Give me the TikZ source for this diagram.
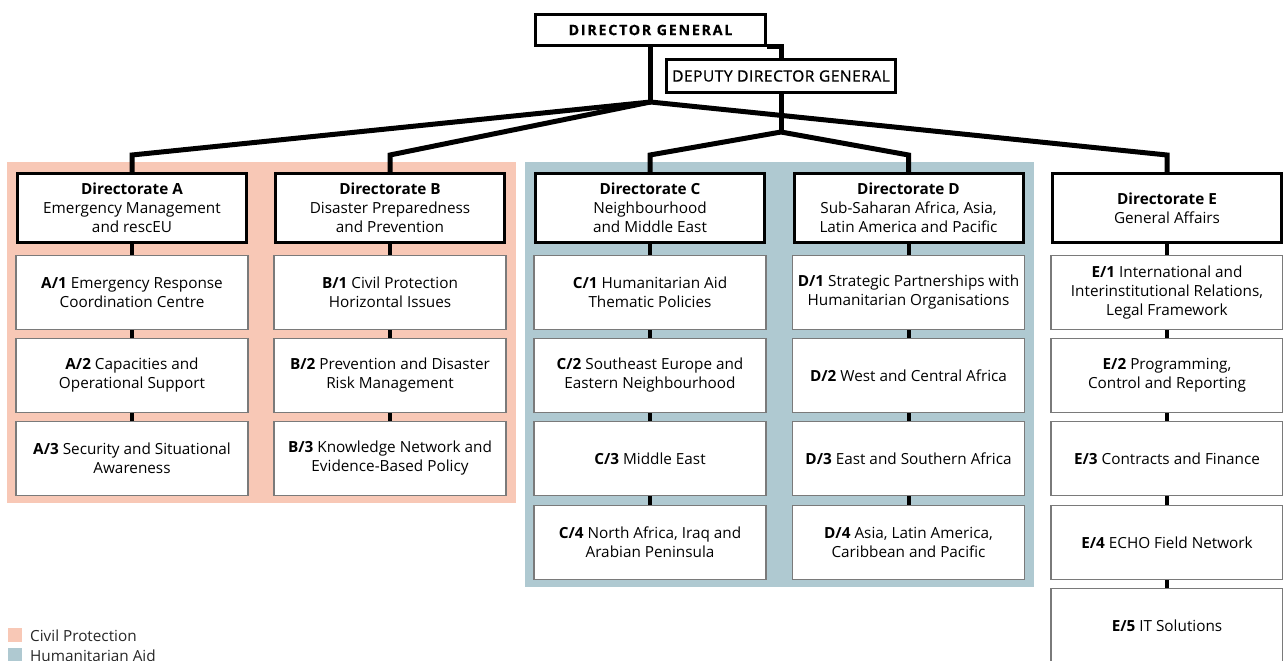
\documentclass[tikz,border=0pt]{standalone}
\usepackage{fontspec}
\setmainfont{Open Sans}
\newfontface\dgfont[LetterSpace=12,FakeBold=0.4]{Open Sans Bold}
\newfontface\ddgfont[LetterSpace=3,FakeBold=0.7]{Open Sans}
\usepackage{tikz}
\usetikzlibrary{positioning}
\definecolor{civilpink}{HTML}{F8C8B6}
\definecolor{humblue}{HTML}{AFC9D1}
\definecolor{unitgray}{HTML}{7A7A7A}

\tikzset{
  headbox/.style={draw=black, line width=3pt, fill=white, inner sep=0pt, align=center},
  dirbox/.style={draw=black, line width=3pt, fill=white, inner sep=0pt, align=center,
    minimum width=229pt, minimum height=69pt, font=\fontsize{15.3}{19}\selectfont},
  unitbox/.style={draw=unitgray, line width=1.2pt, fill=white, inner sep=0pt, align=center,
    minimum width=232pt, minimum height=74pt, font=\fontsize{15.3}{19}\selectfont},
  link/.style={line width=5pt, black},
  stub/.style={line width=4pt, black},
  legendtext/.style={anchor=west, inner sep=0pt, font=\fontsize{15.3}{17}\selectfont, text=black!85}
}

\begin{document}
\begin{tikzpicture}[x=1pt,y=-1pt]
  \useasboundingbox (0,0) rectangle (1283,661);
  % coloured groups
  \fill[civilpink] (7,162) rectangle (516,503);
  \fill[humblue] (525,162) rectangle (1034,587);

  % top level
  \node[headbox, minimum width=230pt, minimum height=31pt] (dg) at (650.5,30)
    {\fontsize{14.3}{16}\dgfont DIRECTOR GENERAL};
  \node[headbox, minimum width=229pt, minimum height=33pt] (ddg) at (781,76)
    {\fontsize{15.6}{18}\ddgfont DEPUTY DIRECTOR GENERAL};

  % directorates
  \node[dirbox] (dirA) at (132,208) {\textbf{Directorate A}\\Emergency Management\\and rescEU};
  \node[dirbox] (dirB) at (390,208) {\textbf{Directorate B}\\Disaster Preparedness\\and Prevention};
  \node[dirbox] (dirC) at (650,208) {\textbf{Directorate C}\\Neighbourhood\\and Middle East};
  \node[dirbox] (dirD) at (908.5,208) {\textbf{Directorate D}\\Sub-Saharan Africa, Asia,\\Latin America and Pacific};
  \node[dirbox] (dirE) at (1167,208) {\textbf{Directorate E}\\General Affairs};

  % units
  \node[unitbox] (unitA1) at (132,292.5) {\textbf{A/1} Emergency Response\\Coordination Centre};
  \node[unitbox] (unitA2) at (132,375.5) {\textbf{A/2} Capacities and\\Operational Support};
  \node[unitbox] (unitA3) at (132,458.5) {\textbf{A/3} Security and Situational\\Awareness};

  \node[unitbox] (unitB1) at (390,292.5) {\textbf{B/1} Civil Protection\\Horizontal Issues};
  \node[unitbox] (unitB2) at (390,375.5) {\textbf{B/2} Prevention and Disaster\\Risk Management};
  \node[unitbox] (unitB3) at (390,458.5) {\textbf{B/3} Knowledge Network and\\Evidence-Based Policy};

  \node[unitbox] (unitC1) at (650,292.5) {\textbf{C/1} Humanitarian Aid\\Thematic Policies};
  \node[unitbox] (unitC2) at (650,375.5) {\textbf{C/2} Southeast Europe and\\Eastern Neighbourhood};
  \node[unitbox] (unitC3) at (650,458.5) {\textbf{C/3} Middle East};
  \node[unitbox] (unitC4) at (650,542.5) {\textbf{C/4} North Africa, Iraq and\\Arabian Peninsula};

  \node[unitbox] (unitD1) at (908.5,292.5) {\textbf{D/1} Strategic Partnerships with\\Humanitarian Organisations};
  \node[unitbox] (unitD2) at (908.5,375.5) {\textbf{D/2} West and Central Africa};
  \node[unitbox] (unitD3) at (908.5,458.5) {\textbf{D/3} East and Southern Africa};
  \node[unitbox] (unitD4) at (908.5,542.5) {\textbf{D/4} Asia, Latin America,\\Caribbean and Pacific};

  \node[unitbox] (unitE1) at (1167,292.5) {\textbf{E/1} International and\\Interinstitutional Relations,\\Legal Framework};
  \node[unitbox] (unitE2) at (1167,375.5) {\textbf{E/2} Programming,\\Control and Reporting};
  \node[unitbox] (unitE3) at (1167,458.5) {\textbf{E/3} Contracts and Finance};
  \node[unitbox] (unitE4) at (1167,542.5) {\textbf{E/4} ECHO Field Network};
  \node[unitbox] (unitE5) at (1167,625.5) {\textbf{E/5} IT Solutions};

  % reporting lines
  \coordinate (dgjoin) at (650.5,102);
  \coordinate (ddgjoin) at (781,132);
  \draw[link] (dg.south) -- (dgjoin);
  \draw[link] (dg.south east) -| (ddg.north);
  \draw[link] (ddg.south) -- (ddgjoin);
  \draw[link] (dgjoin) -- (dirA.north |- 0,155) -- (dirA.north);
  \draw[link] (dgjoin) -- (dirB.north |- 0,155) -- (dirB.north);
  \draw[link] (dgjoin) -- (dirE.north |- 0,155) -- (dirE.north);
  \draw[link] (ddgjoin) -- (dirC.north |- 0,155) -- (dirC.north);
  \draw[link] (ddgjoin) -- (dirD.north |- 0,155) -- (dirD.north);

  \draw[stub] (dirA) -- (unitA1); \draw[stub] (unitA1) -- (unitA2); \draw[stub] (unitA2) -- (unitA3);
  \draw[stub] (dirB) -- (unitB1); \draw[stub] (unitB1) -- (unitB2); \draw[stub] (unitB2) -- (unitB3);
  \draw[stub] (dirC) -- (unitC1); \draw[stub] (unitC1) -- (unitC2); \draw[stub] (unitC2) -- (unitC3);
  \draw[stub] (unitC3) -- (unitC4);
  \draw[stub] (dirD) -- (unitD1); \draw[stub] (unitD1) -- (unitD2); \draw[stub] (unitD2) -- (unitD3);
  \draw[stub] (unitD3) -- (unitD4);
  \draw[stub] (dirE) -- (unitE1); \draw[stub] (unitE1) -- (unitE2); \draw[stub] (unitE2) -- (unitE3);
  \draw[stub] (unitE3) -- (unitE4); \draw[stub] (unitE4) -- (unitE5);

  % legend
  \fill[civilpink] (8,628) rectangle (22,642);
  \fill[humblue] (8,648) rectangle (22,662);
  \node[legendtext] (legcivil) at (30,636) {Civil Protection};
  \node[legendtext] (leghum) at (30,656) {Humanitarian Aid};
\end{tikzpicture}
\end{document}
